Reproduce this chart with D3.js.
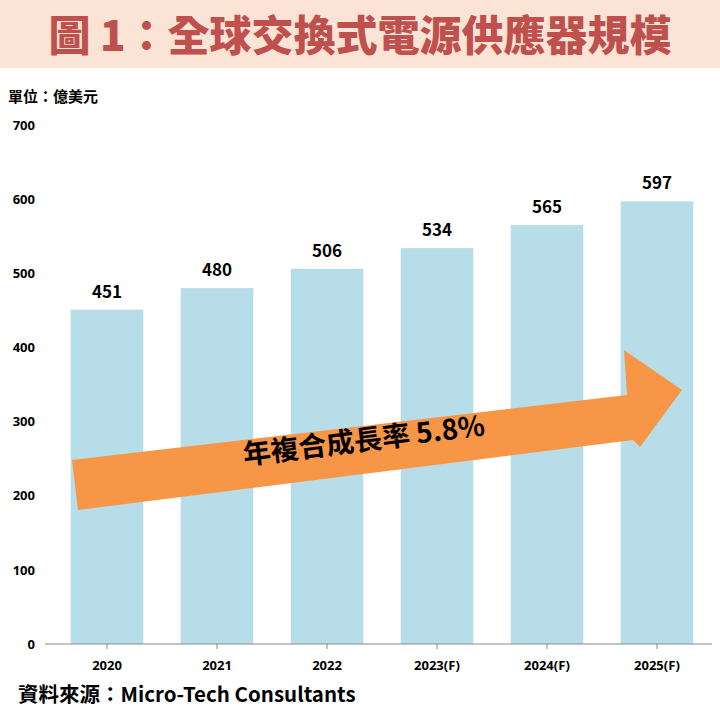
<!DOCTYPE html>
<html><head><meta charset="utf-8">
<script src="https://cdn.jsdelivr.net/npm/d3@7"></script>
<style>body{margin:0;background:#fff}text{font-family:"Noto Sans CJK TC","Noto Sans",sans-serif}</style>
</head><body><svg id="c" width="720" height="720"></svg>
<script>
const categories=["2020","2021","2022","2023(F)","2024(F)","2025(F)"];
const values=[451,480,506,534,565,597];
const yTicks=[0,100,200,300,400,500,600,700];
const svg=d3.select("#c");
svg.append("rect").attr("x",0).attr("y",0).attr("width",720).attr("height",68).attr("fill","#fbe4d5");
svg.append("text").attr("x",360).attr("y",51).attr("text-anchor","middle").attr("font-size",42).attr("font-weight",900).attr("fill","#c0504d").text("圖 1：全球交換式電源供應器規模");
svg.append("text").attr("x",8).attr("y",102).attr("font-size",15).attr("font-weight",700).text("單位：億美元");
const x=d3.scaleBand().domain(categories).range([52,712]).paddingInner(0.34).paddingOuter(0.17);
const y=d3.scaleLinear().domain([0,700]).range([644,125]);
svg.selectAll(".b").data(values).join("rect").attr("x",(d,i)=>x(categories[i])).attr("y",d=>y(d)).attr("width",x.bandwidth()).attr("height",d=>y(0)-y(d)).attr("fill","#b7dde8");
svg.selectAll(".v").data(values).join("text").attr("x",(d,i)=>x(categories[i])+x.bandwidth()/2).attr("y",d=>y(d)-12).attr("text-anchor","middle").attr("font-size",17).attr("font-weight",700).text(d=>d);
const ya=svg.append("g").attr("transform","translate(45,0)").call(d3.axisLeft(y).tickValues(yTicks).tickSize(0).tickPadding(10));
ya.select(".domain").remove();
ya.selectAll("text").attr("font-size",13).attr("font-weight",700).attr("fill","#000").style("font-family","Noto Sans");
const xa=svg.append("g").attr("transform","translate(0,644)").call(d3.axisBottom(x).tickSize(5).tickSizeOuter(0).tickPadding(12));
xa.select(".domain").attr("d","M45,0H712").attr("stroke","#888");
xa.selectAll("line").attr("stroke","#888");
xa.selectAll("text").attr("font-size",13).attr("font-weight",700).attr("fill","#000").style("font-family","Noto Sans");
svg.append("polygon").attr("points","72,460 627,395 624,350 682,390 640,447 633,440 78,510").attr("fill","#f79646");
svg.append("text").attr("transform","translate(365,450) rotate(-7)").attr("text-anchor","middle").attr("font-size",28).attr("font-weight",700).text("年複合成長率 5.8%");
svg.append("text").attr("x",18).attr("y",702).attr("font-size",20.5).attr("font-weight",700).text("資料來源：Micro-Tech Consultants");
</script></body></html>
